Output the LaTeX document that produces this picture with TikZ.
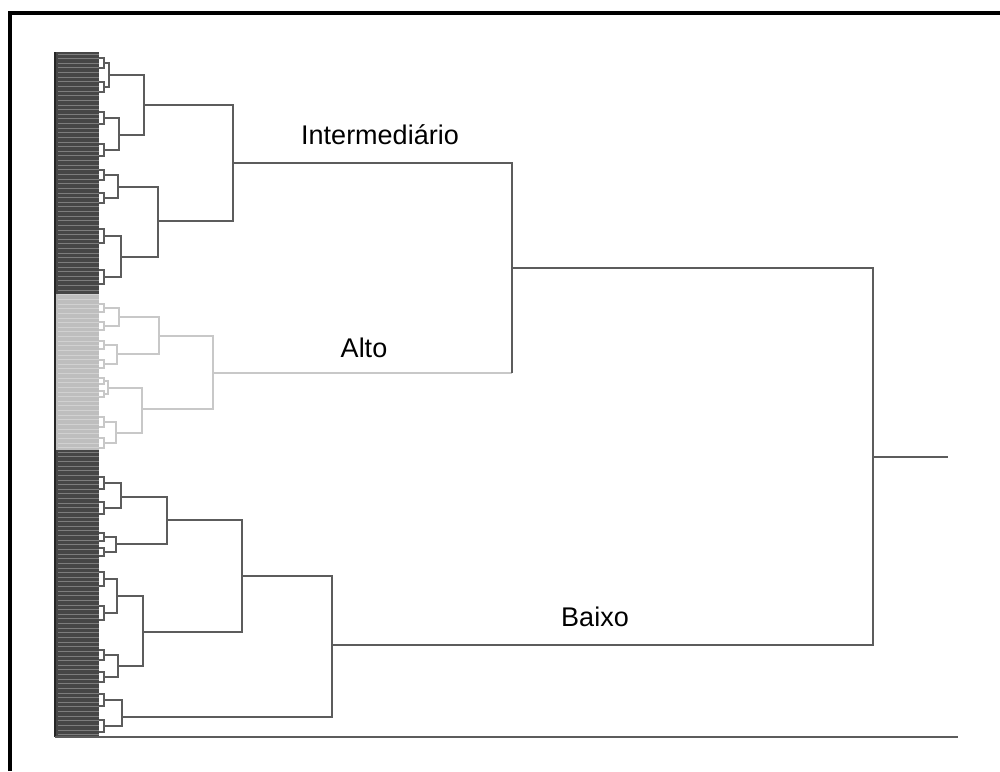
\documentclass[tikz,border=0pt]{standalone}
\usepackage{fontspec}
\setmainfont{Liberation Sans}
\definecolor{linkgray}{HTML}{5C5C5C}
\definecolor{altogray}{HTML}{C8C8C8}
\definecolor{leafdark}{HTML}{464646}
\definecolor{leaflight}{HTML}{BEBEBE}

\begin{document}
\begin{tikzpicture}[x=1pt,y=-1pt,
  link/.style={draw=linkgray,line width=1.4pt},
  altolink/.style={draw=altogray,line width=1.4pt},
  stripe/.style={draw=white,draw opacity=0.3,line width=0.8pt},
  grouptext/.style={font=\fontsize{27}{32}\selectfont,inner sep=0pt}]
   \useasboundingbox (0,0) rectangle (1000,771);
   % frame
   \draw[line width=4pt] (10,771) |- (1000,13);
   % leaf blocks
   \fill[leafdark] (55,52) rectangle (99,294);
   \fill[leaflight] (55,294) rectangle (99,450);
   \fill[leafdark] (55,450) rectangle (99,737);
   \foreach \k in {0,...,147}
      \draw[stripe] (58,{54+\k*4.63}) -- (99,{54+\k*4.63});
   \draw[line width=1.6pt,black!85] (55,52) -- (55,737);
   \draw[line width=1.6pt,linkgray] (55,737) -- (958,737);
   % merge points
   \coordinate (root)  at (873,457);
   \coordinate (rootend) at (948,457);
   \coordinate (top)   at (512,268);
   \coordinate (baixo) at (332,645);
   \coordinate (inter) at (233,163);
   \coordinate (alto)  at (213,373);
   \coordinate (i1)   at (144,105);
   \coordinate (i2)   at (158,221);
   \coordinate (i11)  at (109,75);
   \coordinate (i12)  at (119,135);
   \coordinate (i21)  at (118,187);
   \coordinate (i22)  at (121,257);
   \coordinate (a1)   at (159,336);
   \coordinate (a2)   at (142,409);
   \coordinate (a11)  at (119,317);
   \coordinate (a12)  at (117,354);
   \coordinate (a21)  at (108,388);
   \coordinate (a22)  at (116,433);
   \coordinate (b1)   at (242,576);
   \coordinate (b2)   at (122,717);
   \coordinate (b11)  at (167,520);
   \coordinate (b12)  at (143,632);
   \coordinate (b111) at (121,497);
   \coordinate (b112) at (116,544);
   \coordinate (b121) at (117,596);
   \coordinate (b122) at (118,666);
   % upper links
   \draw[link] (root) -- (rootend);
   \draw[link] (top) -| (root);
   \draw[link] (baixo) -| (root);
   \draw[link] (inter) -| (top);
   \draw[altolink] (alto) -- (alto -| top);
   \draw[link] (alto -| top) -- (top);
   \draw[link] (i1) -| (inter);
   \draw[link] (i2) -| (inter);
   \draw[link] (i11) -| (i1);
   \draw[link] (i12) -| (i1);
   \draw[link] (i21) -| (i2);
   \draw[link] (i22) -| (i2);
   \draw[altolink] (a1) -| (alto);
   \draw[altolink] (a2) -| (alto);
   \draw[altolink] (a11) -| (a1);
   \draw[altolink] (a12) -| (a1);
   \draw[altolink] (a21) -| (a2);
   \draw[altolink] (a22) -| (a2);
   \draw[link] (b1) -| (baixo);
   \draw[link] (b2) -| (baixo);
   \draw[link] (b11) -| (b1);
   \draw[link] (b12) -| (b1);
   \draw[link] (b111) -| (b11);
   \draw[link] (b112) -| (b11);
   \draw[link] (b121) -| (b12);
   \draw[link] (b122) -| (b12);
   % twigs at the leaves
   \foreach \p/\ya/\yb/\s in {i11/63/87/5, i12/118/150/6, i21/175/198/5,
        i22/236/277/7, b111/483/508/6, b112/537/552/4, b121/579/613/7,
        b122/655/677/5, b2/700/726/6} {
      \coordinate (\p-a) at (104,\ya);
      \coordinate (\p-b) at (104,\yb);
      \draw[link] (\p-a) -| (\p);
      \draw[link] (\p-b) -| (\p);
      \draw[link] (99,\ya-\s) -- (104,\ya-\s) -- (104,\ya+\s) -- (99,\ya+\s);
      \draw[link] (99,\yb-\s) -- (104,\yb-\s) -- (104,\yb+\s) -- (99,\yb+\s);
   }
   \foreach \p/\ya/\yb/\s in {a11/308/326/4, a12/345/364/4, a21/381/394/3,
        a22/422/443/5} {
      \coordinate (\p-a) at (104,\ya);
      \coordinate (\p-b) at (104,\yb);
      \draw[altolink] (\p-a) -| (\p);
      \draw[altolink] (\p-b) -| (\p);
      \draw[altolink] (99,\ya-\s) -- (104,\ya-\s) -- (104,\ya+\s) -- (99,\ya+\s);
      \draw[altolink] (99,\yb-\s) -- (104,\yb-\s) -- (104,\yb+\s) -- (99,\yb+\s);
   }
   % group names
   \node[grouptext] (intertext) at (380,135) {Intermediário};
   \node[grouptext] (altotext)  at (364,348) {Alto};
   \node[grouptext] (baixotext) at (595,617) {Baixo};
\end{tikzpicture}
\end{document}
